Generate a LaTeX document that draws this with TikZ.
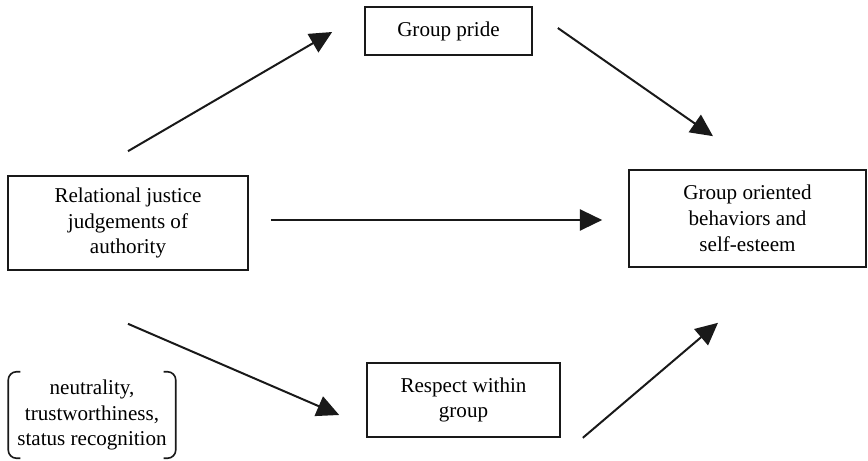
\documentclass[tikz,border=0pt]{standalone}
\usepackage{fontspec}
\setmainfont{Liberation Serif}
\usetikzlibrary{arrows.meta, positioning}

\begin{document}
\begin{tikzpicture}[
    x=0.03cm, y=-0.03cm,
    box/.style={rectangle, draw=black!90, line width=1.4pt, fill=white, align=center, font=\fontsize{18}{22}\selectfont, inner sep=2pt},
    plain/.style={rectangle, align=center, font=\fontsize{18}{22}\selectfont, inner sep=2pt},
    bracketline/.style={draw=black!90, line width=1.4pt, rounded corners=7pt},
    arrow/.style={-{Triangle[length=19pt,width=18pt]}, line width=1.7pt, draw=black!90}
]
\useasboundingbox (0,0) rectangle (868,461);

% Boxes
\node[box, minimum width=5.01cm, minimum height=1.44cm] (pride) at (448.5,31) {Group pride};
\node[box, minimum width=7.2cm, minimum height=2.82cm] (justice) at (128,223) {Relational justice\\judgements of\\authority};
\node[box, minimum width=7.11cm, minimum height=2.91cm] (outcome) at (747.5,218.5) {Group oriented\\behaviors and\\self-esteem};
\node[box, minimum width=5.79cm, minimum height=2.22cm] (respect) at (463.5,400) {Respect within\\group};

% Bracketed attributes
\node[plain, minimum width=5.01cm, minimum height=2.58cm] (attrs) at (92,415) {neutrality,\\trustworthiness,\\status recognition};
\draw[bracketline] ([shift={(12,0)}]attrs.north west) -- (attrs.north west) -- (attrs.south west) -- ([shift={(12,0)}]attrs.south west);
\draw[bracketline] ([shift={(-12,0)}]attrs.north east) -- (attrs.north east) -- (attrs.south east) -- ([shift={(-12,0)}]attrs.south east);

% Paths
\draw[arrow] ([shift={(0,-24)}]justice.north) -- ([shift={(-32,1)}]pride.west);
\draw[arrow] ([shift={(25,-3)}]pride.east) -- ([shift={(-34.5,-33)}]outcome.north);
\draw[arrow] ([shift={(22,-3)}]justice.east) -- ([shift={(-26,1.5)}]outcome.west);
\draw[arrow] ([shift={(0,53)}]justice.south) -- ([shift={(-27,15)}]respect.west);
\draw[arrow] ([shift={(22,0)}]respect.south east) -- ([shift={(-29.5,55)}]outcome.south);

\end{tikzpicture}
\end{document}
